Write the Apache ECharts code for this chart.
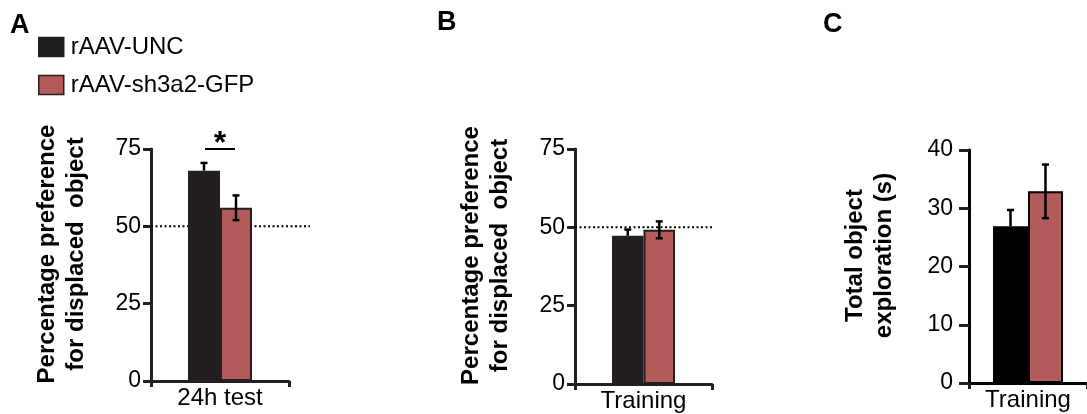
<!DOCTYPE html>
<html>
<head>
<meta charset="utf-8">
<script src="https://cdn.jsdelivr.net/npm/echarts@6/dist/echarts.min.js"></script>
<style>
  html, body { margin: 0; padding: 0; background: #fff; }
  #main { width: 1087px; height: 414px; }
</style>
</head>
<body>
<div id="main"></div>
<script>
var myChart = echarts.init(document.getElementById('main'));

// data
var seriesNames = ['rAAV-UNC', 'rAAV-sh3a2-GFP'];
var panelLetters = ['A', 'B', 'C'];
var categories = [['24h test'], ['Training'], ['Training']];
var uncMean = [68, 47.3, 26.9];
var uncSem = [2.5, 2, 2.8];
var shMean = [56, 49.2, 32.9];
var shSem = [4, 2.7, 4.6];
var yMax = [75, 75, 40];
var yStep = [25, 25, 10];
var yTitles = ['Percentage preference\nfor displaced  object', 'Percentage preference\nfor displaced  object', 'Total object\nexploration (s)'];
var chanceLevel = 50;

var ink = '#231f20';
var red = '#b35b5b';
var font = 'Liberation Sans, Arial, sans-serif';

var grids = [
    { left: 151, top: 149, width: 138, height: 232 },
    { left: 575, top: 149, width: 137, height: 235 },
    { left: 969, top: 150, width: 118, height: 233 }
];
var barW = [32, 31.5, 35];
var blackCol = [ink, ink, '#000'];
var nameGaps = [60, 60, 70];
var tickLen = [8, 8, 10];
var labelMargin = [10, 10, 16];

// value(3): which bar (-1 left, +1 right); the lower whisker of the black bar is hidden by the bar itself
function errRender(half) {
    return function (params, api) {
        var side = api.value(3);
        var x = api.coord([api.value(0), api.value(1)])[0] + side * half;
        var mid = api.coord([api.value(0), api.value(1)])[1];
        var hi = api.coord([api.value(0), api.value(1) + api.value(2)])[1];
        var lo = api.coord([api.value(0), api.value(1) - api.value(2)])[1];
        var st = { stroke: '#000', lineWidth: 2.5 };
        var kids = [
            { type: 'line', shape: { x1: x, y1: hi, x2: x, y2: side > 0 ? lo : mid }, style: st },
            { type: 'line', shape: { x1: x - 3.5, y1: hi, x2: x + 3.5, y2: hi }, style: st }
        ];
        if (side > 0) {
            kids.push({ type: 'line', shape: { x1: x - 3.5, y1: lo, x2: x + 3.5, y2: lo }, style: st });
        }
        return { type: 'group', children: kids };
    };
}

function chanceRender(extra) {
    return function (params, api) {
        var y = api.coord([0, api.value(1)])[1];
        var cs = params.coordSys;
        return {
            type: 'line',
            shape: { x1: cs.x, y1: y, x2: cs.x + cs.width + extra, y2: y },
            style: { stroke: '#000', lineWidth: 2, lineDash: [2, 2.5] }
        };
    };
}

var xAxes = [], yAxes = [], series = [];
for (var i = 0; i < 3; i++) {
    xAxes.push({
        type: 'category',
        gridIndex: i,
        data: categories[i],
        axisLine: { lineStyle: { color: blackCol[i], width: 3 } },
        axisTick: { show: true, length: 6, lineStyle: { color: ink, width: 3 } },
        axisLabel: { color: '#000', fontSize: 24, fontFamily: font, margin: 5 }
    });
    yAxes.push({
        type: 'value',
        gridIndex: i,
        min: 0,
        max: yMax[i],
        interval: yStep[i],
        name: yTitles[i],
        nameLocation: 'middle',
        nameRotate: 90,
        nameGap: nameGaps[i],
        nameTextStyle: {
            color: '#000', fontSize: 24, fontWeight: 'bold', fontFamily: font,
            lineHeight: 29, padding: [0, 0, 0, 22]
        },
        splitLine: { show: false },
        axisLine: { show: true, lineStyle: { color: blackCol[i], width: 3 } },
        axisTick: { show: true, length: tickLen[i], lineStyle: { color: ink, width: 3 } },
        axisLabel: { color: '#000', fontSize: 23, fontFamily: font, margin: labelMargin[i] }
    });

    if (i < 2) {
        series.push({
            type: 'custom',
            name: 'chance',
            xAxisIndex: i, yAxisIndex: i,
            clip: false,
            silent: true,
            renderItem: chanceRender(i === 0 ? 21 : 1),
            data: [[0, chanceLevel]]
        });
    }

    series.push({
        type: 'bar',
        name: seriesNames[0],
        xAxisIndex: i, yAxisIndex: i,
        barWidth: barW[i],
        barGap: '0%',
        itemStyle: { color: blackCol[i], borderColor: blackCol[i], borderWidth: 1.5 },
        data: [uncMean[i]]
    });
    series.push({
        type: 'bar',
        name: seriesNames[1],
        xAxisIndex: i, yAxisIndex: i,
        barWidth: barW[i],
        barGap: '0%',
        itemStyle: { color: red, borderColor: blackCol[i], borderWidth: 2 },
        data: [shMean[i]]
    });
    series.push({
        type: 'custom',
        name: 'sem',
        xAxisIndex: i, yAxisIndex: i,
        clip: false,
        silent: true,
        z: 5,
        renderItem: errRender(barW[i] / 2),
        data: [[0, uncMean[i], uncSem[i], -1], [0, shMean[i], shSem[i], 1]]
    });
}

// significance bracket on panel A
series.push({
    type: 'custom',
    name: 'sig',
    xAxisIndex: 0, yAxisIndex: 0,
    clip: false,
    silent: true,
    renderItem: function (params, api) {
        var p = api.coord([api.value(0), api.value(1)]);
        return {
            type: 'group',
            children: [
                { type: 'line', shape: { x1: p[0] - 15, y1: p[1], x2: p[0] + 15, y2: p[1] },
                  style: { stroke: '#000', lineWidth: 2 } },
                { type: 'text', x: p[0], y: p[1] - 5,
                  style: { text: '*', fill: '#000', font: 'bold 32px ' + font,
                           textAlign: 'center', textVerticalAlign: 'middle' } }
            ]
        };
    },
    data: [[0, 75]]
});

var letterPos = [[10, 12], [437, 9], [823, 11]];
var graphics = panelLetters.map(function (t, k) {
    return {
        type: 'text', left: letterPos[k][0], top: letterPos[k][1],
        style: { text: t, fill: '#000', font: 'bold 27px ' + font }
    };
});

option = {
    animation: false,
    grid: grids.map(function (g) {
        return { left: g.left, top: g.top, width: g.width, height: g.height, outerBoundsMode: 'none' };
    }),
    legend: {
        data: seriesNames,
        orient: 'vertical',
        left: 38,
        top: 35,
        padding: 0,
        itemWidth: 25,
        itemHeight: 19,
        itemGap: 14,
        icon: 'rect',
        itemStyle: { borderColor: ink, borderWidth: 1.5 },
        textStyle: { color: '#000', fontSize: 24, fontFamily: font, padding: [0, 0, 0, 2] }
    },
    graphic: graphics,
    xAxis: xAxes,
    yAxis: yAxes,
    series: series
};
myChart.setOption(option);
</script>
</body>
</html>
